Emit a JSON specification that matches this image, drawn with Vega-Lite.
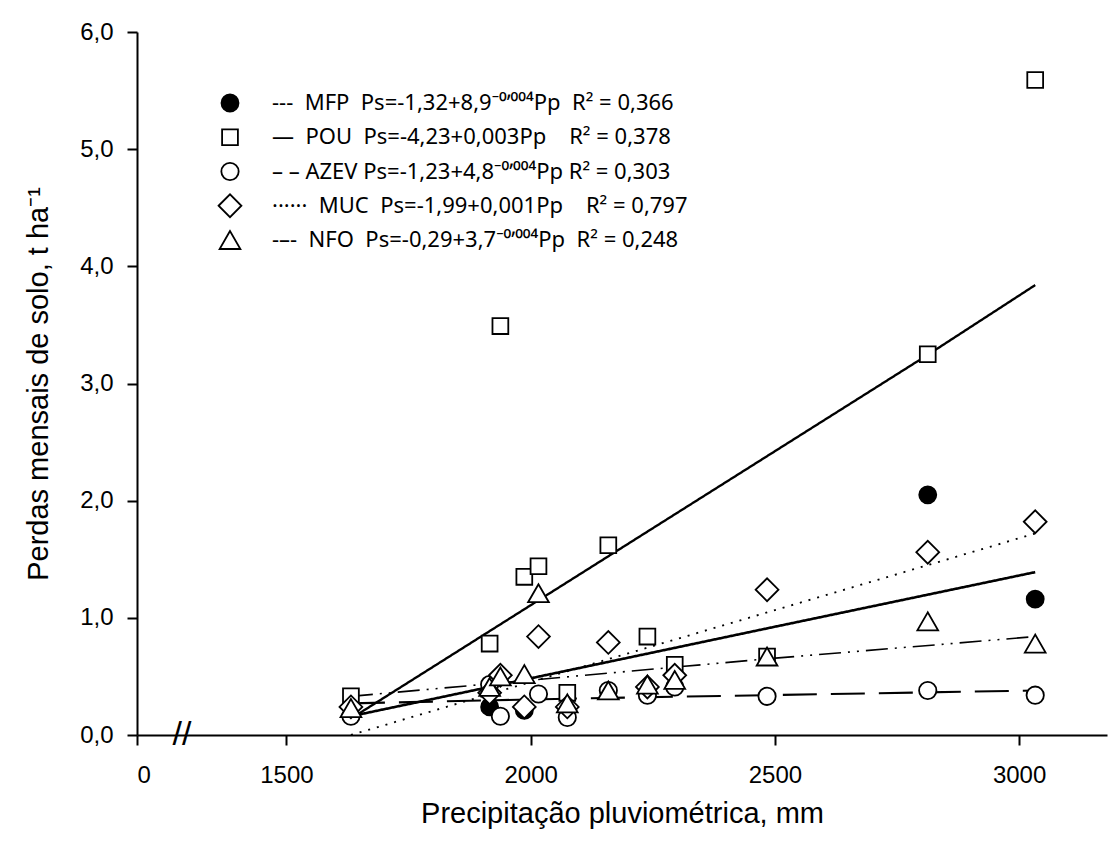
{
  "$schema": "https://vega.github.io/schema/vega-lite/v6.json",
  "width": 970,
  "height": 703,
  "autosize": {"type": "none"},
  "padding": {"left": 137, "top": 32, "right": 2, "bottom": 115},
  "background": "white",
  "config": {
    "view": {"stroke": null},
    "font": "Liberation Sans",
    "axis": {
      "domainColor": "black", "domainWidth": 2, "tickColor": "black", "tickWidth": 2, "tickSize": 10,
      "labelFont": "Liberation Sans", "labelFontSize": 24, "labelColor": "black",
      "titleFont": "Liberation Sans", "titleFontSize": 29, "titleFontWeight": "normal", "titleColor": "black",
      "grid": false
    },
    "text": {"font": "Liberation Sans", "fontSize": 23, "color": "black", "align": "left", "baseline": "middle"}
  },
  "datasets": {
    "pts": [
      {"series": "MFP", "pp": 1916, "ps": 0.24},
      {"series": "MFP", "pp": 1987, "ps": 0.21},
      {"series": "MFP", "pp": 2813, "ps": 2.05},
      {"series": "MFP", "pp": 3033, "ps": 1.16},
      {"series": "AZEV", "pp": 1632, "ps": 0.16},
      {"series": "AZEV", "pp": 1916, "ps": 0.43},
      {"series": "AZEV", "pp": 1938, "ps": 0.16},
      {"series": "AZEV", "pp": 2016, "ps": 0.35},
      {"series": "AZEV", "pp": 2075, "ps": 0.15},
      {"series": "AZEV", "pp": 2159, "ps": 0.38},
      {"series": "AZEV", "pp": 2239, "ps": 0.34},
      {"series": "AZEV", "pp": 2295, "ps": 0.41},
      {"series": "AZEV", "pp": 2484, "ps": 0.33},
      {"series": "AZEV", "pp": 2813, "ps": 0.38},
      {"series": "AZEV", "pp": 3033, "ps": 0.34},
      {"series": "POU", "pp": 1632, "ps": 0.33},
      {"series": "POU", "pp": 1916, "ps": 0.78},
      {"series": "POU", "pp": 1938, "ps": 3.49},
      {"series": "POU", "pp": 1987, "ps": 1.35},
      {"series": "POU", "pp": 2016, "ps": 1.44},
      {"series": "POU", "pp": 2075, "ps": 0.36},
      {"series": "POU", "pp": 2159, "ps": 1.62},
      {"series": "POU", "pp": 2239, "ps": 0.84},
      {"series": "POU", "pp": 2295, "ps": 0.6},
      {"series": "POU", "pp": 2484, "ps": 0.67},
      {"series": "POU", "pp": 2813, "ps": 3.25},
      {"series": "POU", "pp": 3033, "ps": 5.59},
      {"series": "MUC", "pp": 1632, "ps": 0.24},
      {"series": "MUC", "pp": 1916, "ps": 0.36},
      {"series": "MUC", "pp": 1938, "ps": 0.51},
      {"series": "MUC", "pp": 1987, "ps": 0.24},
      {"series": "MUC", "pp": 2016, "ps": 0.84},
      {"series": "MUC", "pp": 2075, "ps": 0.24},
      {"series": "MUC", "pp": 2159, "ps": 0.79},
      {"series": "MUC", "pp": 2239, "ps": 0.41},
      {"series": "MUC", "pp": 2295, "ps": 0.51},
      {"series": "MUC", "pp": 2484, "ps": 1.24},
      {"series": "MUC", "pp": 2813, "ps": 1.56},
      {"series": "MUC", "pp": 3033, "ps": 1.82},
      {"series": "NFO", "pp": 1632, "ps": 0.23},
      {"series": "NFO", "pp": 1916, "ps": 0.41},
      {"series": "NFO", "pp": 1938, "ps": 0.5},
      {"series": "NFO", "pp": 1987, "ps": 0.52},
      {"series": "NFO", "pp": 2016, "ps": 1.21},
      {"series": "NFO", "pp": 2075, "ps": 0.27},
      {"series": "NFO", "pp": 2159, "ps": 0.38},
      {"series": "NFO", "pp": 2239, "ps": 0.43},
      {"series": "NFO", "pp": 2295, "ps": 0.47},
      {"series": "NFO", "pp": 2484, "ps": 0.67},
      {"series": "NFO", "pp": 2813, "ps": 0.97},
      {"series": "NFO", "pp": 3033, "ps": 0.78}
    ],
    "fits": [
      {"series": "MFP", "pp": 1632, "ps": 0.16},
      {"series": "MFP", "pp": 2484, "ps": 0.91},
      {"series": "MFP", "pp": 3033, "ps": 1.39},
      {"series": "POU", "pp": 1632, "ps": 0.14},
      {"series": "POU", "pp": 2815, "ps": 3.25},
      {"series": "POU", "pp": 3033, "ps": 3.84},
      {"series": "AZEV", "pp": 1632, "ps": 0.27},
      {"series": "AZEV", "pp": 2075, "ps": 0.31},
      {"series": "AZEV", "pp": 2484, "ps": 0.34},
      {"series": "AZEV", "pp": 3033, "ps": 0.38},
      {"series": "MUC", "pp": 1632, "ps": 0.0},
      {"series": "MUC", "pp": 3033, "ps": 1.72},
      {"series": "NFO", "pp": 1632, "ps": 0.33},
      {"series": "NFO", "pp": 2484, "ps": 0.65},
      {"series": "NFO", "pp": 3033, "ps": 0.84}
    ],
    "brk": [{"pp": 1286, "ps": 0}],
    "leg": [
      {"series": "MFP", "label": "---\u00a0 MFP\u00a0 Ps=-1,32+8,9⁻⁰ʼ⁰⁰⁴Pp\u00a0 R² = 0,366"},
      {"series": "POU", "label": "\u00a0—\u00a0 POU\u00a0 Ps=-4,23+0,003Pp\u00a0\u00a0\u00a0 R² = 0,378"},
      {"series": "AZEV", "label": "\u00a0– – AZEV Ps=-1,23+4,8⁻⁰ʼ⁰⁰⁴Pp R² = 0,303"},
      {"series": "MUC", "label": "\u00a0······\u00a0 MUC\u00a0 Ps=-1,99+0,001Pp\u00a0\u00a0\u00a0 R² = 0,797"},
      {"series": "NFO", "label": "-–-\u00a0 NFO\u00a0 Ps=-0,29+3,7⁻⁰ʼ⁰⁰⁴Pp\u00a0 R² = 0,248"}
    ]
  },
  "resolve": {"scale": {"x": "independent", "y": "independent"}},
  "layer": [
    {
      "encoding": {
        "x": {
          "field": "pp", "type": "quantitative",
          "scale": {"domain": [1194, 3180], "nice": false, "zero": false},
          "axis": {
            "title": "Precipitação pluviométrica, mm",
            "values": [1194, 1500, 2000, 2500, 3000],
            "labelExpr": "datum.value < 1400 ? '0' : format(datum.value, 'd')",
            "labelPadding": 18, "titlePadding": 12
          }
        },
        "y": {
          "field": "ps", "type": "quantitative",
          "scale": {"domain": [0, 6], "nice": false},
          "axis": {
            "title": "Perdas mensais de solo, t ha⁻¹",
            "values": [0, 1, 2, 3, 4, 5, 6],
            "labelExpr": "replace(format(datum.value, '.1f'), '.', ',')",
            "labelPadding": 14, "titlePadding": 26
          }
        }
      },
      "layer": [
        {
          "data": {"name": "fits"},
          "mark": {"type": "line", "color": "black"},
          "encoding": {
            "detail": {"field": "series"},
            "strokeDash": {
              "field": "series", "type": "nominal",
              "scale": {"domain": ["MFP", "POU", "AZEV", "MUC", "NFO"], "range": [[1, 0], [1, 0], [34, 14], [2, 7], [22, 7, 2, 7, 2, 7]]},
              "legend": null
            },
            "strokeWidth": {
              "field": "series", "type": "nominal",
              "scale": {"domain": ["MFP", "POU", "AZEV", "MUC", "NFO"], "range": [2.6, 1.6, 1.8, 1.6, 1.8]},
              "legend": null
            }
          }
        },
        {
          "data": {"name": "pts"}, "transform": [{"filter": "datum.series == 'MFP'"}],
          "mark": {"type": "point", "shape": "circle", "size": 290, "filled": true, "fill": "black", "stroke": "black", "strokeWidth": 1.8, "opacity": 1}
        },
        {
          "data": {"name": "pts"}, "transform": [{"filter": "datum.series == 'AZEV'"}],
          "mark": {"type": "point", "shape": "circle", "size": 300, "filled": true, "fill": "white", "stroke": "black", "strokeWidth": 1.8, "opacity": 1}
        },
        {
          "data": {"name": "pts"}, "transform": [{"filter": "datum.series == 'POU'"}],
          "mark": {"type": "point", "shape": "square", "size": 250, "filled": true, "fill": "white", "stroke": "black", "strokeWidth": 1.8, "opacity": 1}
        },
        {
          "data": {"name": "pts"}, "transform": [{"filter": "datum.series == 'MUC'"}],
          "mark": {"type": "point", "shape": "diamond", "size": 520, "filled": true, "fill": "white", "stroke": "black", "strokeWidth": 1.8, "opacity": 1}
        },
        {
          "data": {"name": "pts"}, "transform": [{"filter": "datum.series == 'NFO'"}],
          "mark": {"type": "point", "shape": "triangle-up", "size": 430, "filled": true, "fill": "white", "stroke": "black", "strokeWidth": 1.8, "opacity": 1}
        },
        {
          "data": {"name": "brk"},
          "mark": {"type": "text", "text": "//", "fontSize": 34, "align": "center", "clip": false}
        }
      ]
    },
    {
      "data": {"name": "leg"},
      "encoding": {
        "x": {"field": "series", "type": "nominal", "scale": {"type": "point", "domain": ["MFP", "POU", "AZEV", "MUC", "NFO"], "range": [93, 93]}, "axis": null},
        "y": {"field": "series", "type": "nominal", "scale": {"type": "point", "domain": ["MFP", "POU", "AZEV", "MUC", "NFO"], "range": [71, 208], "padding": 0}, "axis": null}
      },
      "layer": [
        {
          "transform": [{"filter": "datum.series == 'MFP'"}],
          "mark": {"type": "point", "shape": "circle", "size": 290, "filled": true, "fill": "black", "stroke": "black", "strokeWidth": 1.8, "opacity": 1}
        },
        {
          "transform": [{"filter": "datum.series == 'POU'"}],
          "mark": {"type": "point", "shape": "square", "size": 250, "filled": true, "fill": "white", "stroke": "black", "strokeWidth": 1.8, "opacity": 1}
        },
        {
          "transform": [{"filter": "datum.series == 'AZEV'"}],
          "mark": {"type": "point", "shape": "circle", "size": 300, "filled": true, "fill": "white", "stroke": "black", "strokeWidth": 1.8, "opacity": 1}
        },
        {
          "transform": [{"filter": "datum.series == 'MUC'"}],
          "mark": {"type": "point", "shape": "diamond", "size": 520, "filled": true, "fill": "white", "stroke": "black", "strokeWidth": 1.8, "opacity": 1}
        },
        {
          "transform": [{"filter": "datum.series == 'NFO'"}],
          "mark": {"type": "point", "shape": "triangle-up", "size": 430, "filled": true, "fill": "white", "stroke": "black", "strokeWidth": 1.8, "opacity": 1}
        },
        {
          "mark": {"type": "text", "dx": 42, "font": "Noto Sans", "fontSize": 22},
          "encoding": {"text": {"field": "label"}}
        }
      ]
    }
  ]
}
